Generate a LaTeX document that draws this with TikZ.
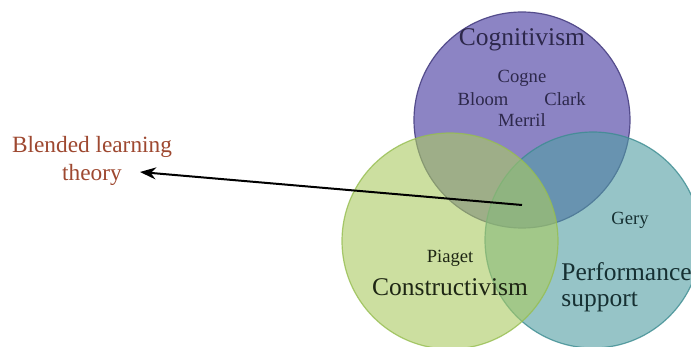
\documentclass[tikz,border=0pt]{standalone}
\usepackage{fontspec}
\setmainfont{Liberation Serif}
\usetikzlibrary{arrows.meta}
\definecolor{purpfill}{RGB}{140,132,196}
\definecolor{purpedge}{RGB}{84,76,140}
\definecolor{greenfill}{RGB}{170,203,97}
\definecolor{greenedge}{RGB}{150,190,80}
\definecolor{tealfill}{RGB}{80,157,163}
\definecolor{tealedge}{RGB}{60,140,145}
\definecolor{brownish}{RGB}{158,72,48}
\definecolor{cogtext}{RGB}{45,40,75}
\definecolor{context}{RGB}{30,38,20}
\definecolor{pertext}{RGB}{22,48,50}
\tikzset{
  venn/.style={circle, inner sep=0pt, minimum size=108pt, line width=0.6pt},
  bigtext/.style={font=\fontsize{12.75}{15}\selectfont, inner sep=0pt},
  nametext/.style={font=\fontsize{9.3}{11}\selectfont, inner sep=0pt},
}
\begin{document}
\begin{tikzpicture}[x=0.5pt,y=-0.5pt]
\useasboundingbox[fill=white] (0,0) rectangle (691,347);
\node[venn, fill=purpfill, draw=purpedge] (cog) at (522,120) {};
\node[venn, fill=tealfill, fill opacity=0.6, draw=tealedge, draw opacity=0.8] (per) at (593,240) {};
\node[venn, fill=greenfill, fill opacity=0.6, draw=greenedge, draw opacity=0.8] (con) at (450,241) {};
\node[bigtext, text=cogtext] (cogl) at (522,40) {Cognitivism};
\node[nametext, text=cogtext] (cogne) at (522,78) {Cogne};
\node[nametext, text=cogtext] (bloom) at (483,99) {Bloom};
\node[nametext, text=cogtext] (clark) at (565,99) {Clark};
\node[nametext, text=cogtext] (merril) at (522,120) {Merril};
\node[nametext, text=context] (piaget) at (450,258) {Piaget};
\node[bigtext, text=context] (conl) at (450,287) {Constructivism};
\node[nametext, text=pertext] (gery) at (630,220) {Gery};
\node[bigtext, text=pertext, anchor=west] (perl) at (561,272) {Performance};
\node[bigtext, text=pertext, anchor=west] (supl) at (561,302) {support};
\node[font=\fontsize{11.65}{14}\selectfont, text=brownish, align=center, inner sep=0pt] (blend) at (92,161) {Blended learning\\theory};
\coordinate (center) at (522,205);
\coordinate (tip) at (140,172);
\draw[line width=1pt, -{Stealth[length=8pt, width=6pt]}] (center) -- (tip);
\end{tikzpicture}
\end{document}
